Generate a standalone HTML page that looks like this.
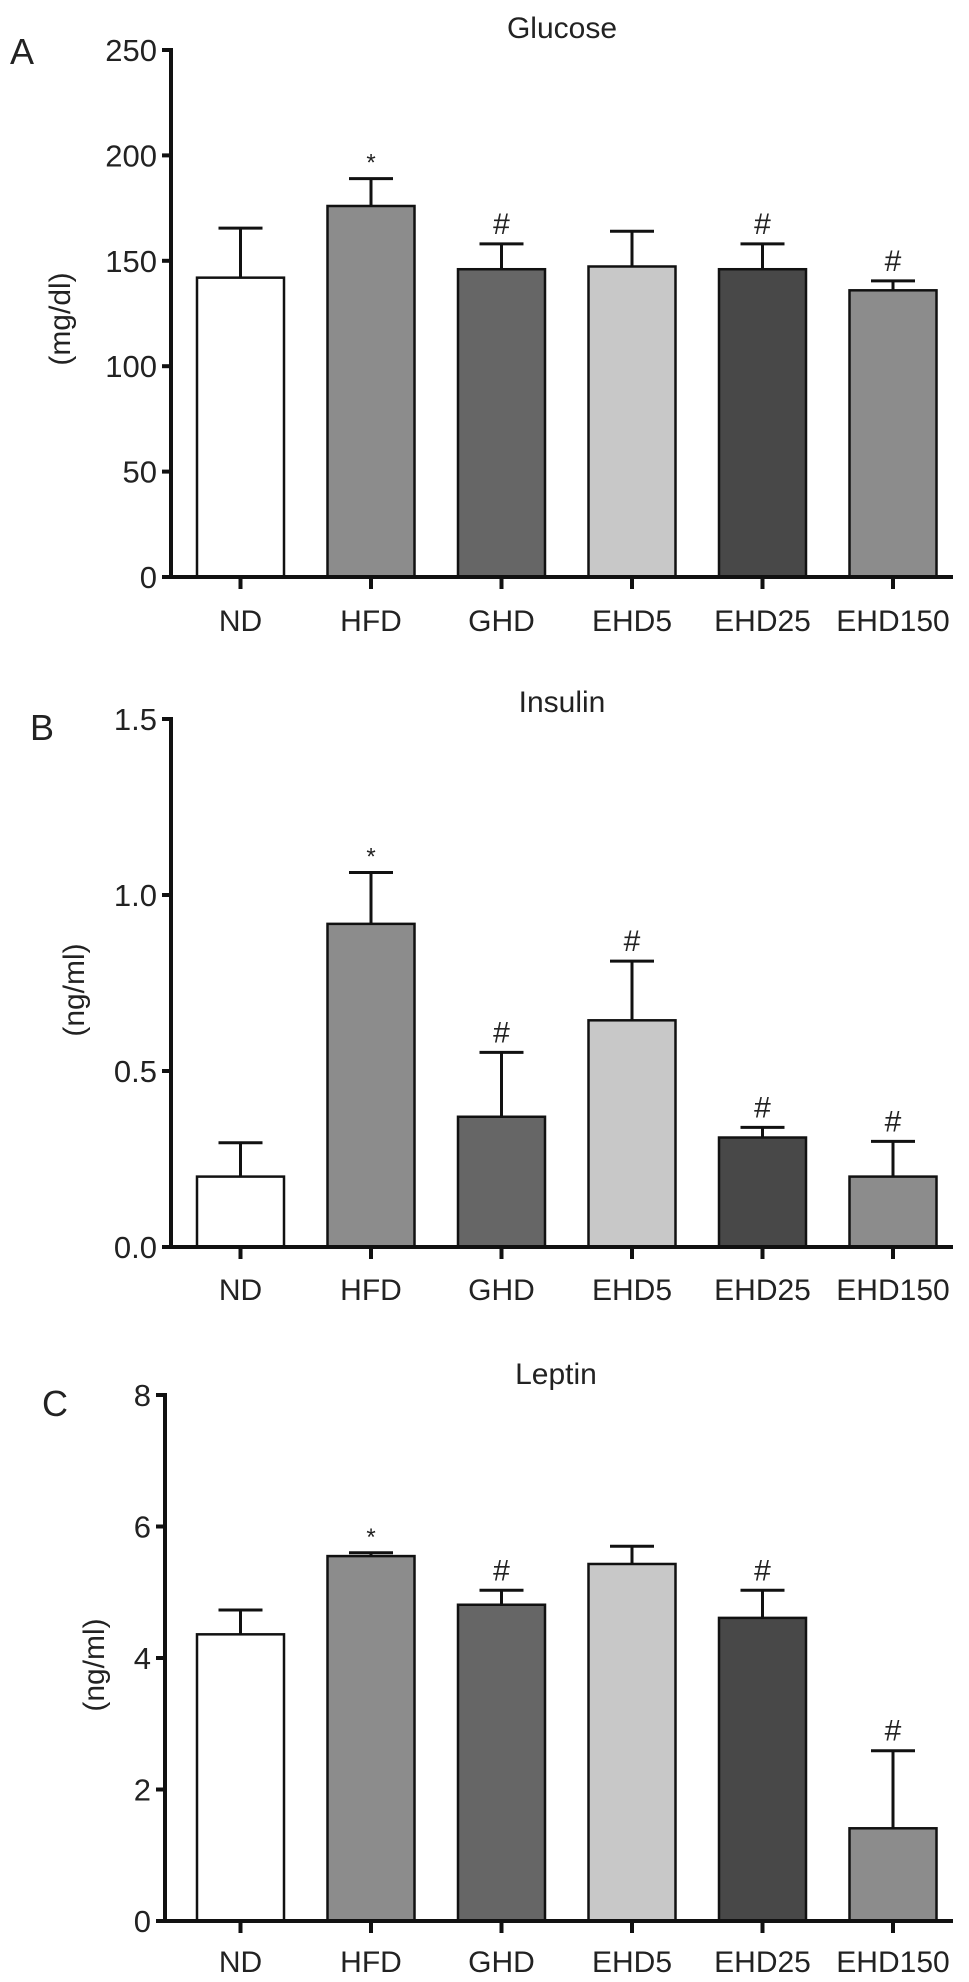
<!DOCTYPE html>
<html><head><meta charset="utf-8"><style>
html,body{margin:0;padding:0;background:#fff;}
svg{display:block;font-family:"Liberation Sans",Arial,sans-serif;}
</style></head><body>
<svg id="fig" width="969" height="1982" viewBox="0 0 969 1982"></svg>
<script>
const categories = ["ND","HFD","GHD","EHD5","EHD25","EHD150"];
const glucoseMeans = [142, 176, 146, 147.3, 146, 136];
const glucoseErr = [165.5, 189, 158, 164, 158, 140.5];
const glucoseMarks = ["", "*", "#", "", "#", "#"];
const glucoseTicks = [0, 50, 100, 150, 200, 250];
const insulinMeans = [0.2, 0.918, 0.37, 0.644, 0.311, 0.2];
const insulinErr = [0.296, 1.064, 0.553, 0.812, 0.34, 0.3];
const insulinMarks = ["", "*", "#", "#", "#", "#"];
const insulinTicks = ["0.0", "0.5", "1.0", "1.5"];
const leptinMeans = [4.36, 5.55, 4.81, 5.43, 4.61, 1.41];
const leptinErr = [4.73, 5.6, 5.03, 5.7, 5.03, 2.59];
const leptinMarks = ["", "*", "#", "", "#", "#"];
const leptinTicks = [0, 2, 4, 6, 8];

const fills = ["#ffffff","#8c8c8c","#666666","#c8c8c8","#484848","#8c8c8c"];
const NS = "http://www.w3.org/2000/svg";
const svg = document.getElementById("fig");
function el(tag, attrs, parent){
  const e = document.createElementNS(NS, tag);
  for (const k in attrs) e.setAttribute(k, attrs[k]);
  (parent||svg).appendChild(e);
  return e;
}
function panel(cfg){
  const g = el("g", {});
  
  
  const max = parseFloat(cfg.ticks[cfg.ticks.length-1]);
  const y = v => cfg.y0 - (v / max) * (cfg.y0 - cfg.yTop);
  const firstC = 240.5, step = 130.5, bw = 87;
  const x = i => firstC + i * step;
  // title
  const t = el("text", {x: cfg.titleX, y: cfg.titleY, "font-size": 30, "text-anchor": "middle", fill: "#222"}, g);
  t.textContent = cfg.title;
  
  
  const L = el("text", {x: cfg.letterX, y: cfg.letterY, "font-size": 36, fill: "#222"}, g);
  L.textContent = cfg.letter;
  
  
  const yl = el("text", {x: 0, y: 0, "font-size": 30, "text-anchor": "middle", fill: "#222",
    transform: `translate(${cfg.ylX},${cfg.ylY}) rotate(-90)`}, g);
  yl.textContent = cfg.yLabel;
  
  
  // bars
  categories.forEach((c, i) => {
    const cx = x(i);
    const top = y(cfg.means[i]), et = y(cfg.err[i]);
    const eb = el("line", {x1: cx, x2: cx, y1: top, y2: et, stroke: "#111", "stroke-width": 3}, g);
    
    
    const cap = el("line", {x1: cx - 22, x2: cx + 22, y1: et, y2: et, stroke: "#111", "stroke-width": 3}, g);
    
    
    const r = el("rect", {x: cx - bw/2, y: top, width: bw, height: cfg.y0 - top, fill: fills[i], stroke: "#111", "stroke-width": 2.5}, g);
    
    
    if (cfg.marks[i]) {
      const m = el("text", {x: cx, y: et - (cfg.marks[i] === "*" ? 8 : 10), "font-size": cfg.marks[i] === "*" ? 24 : 30, "text-anchor": "middle", fill: "#222"}, g);
      m.textContent = cfg.marks[i];
      
      
    }
    const tk = el("line", {x1: cx, x2: cx, y1: cfg.y0, y2: cfg.y0 + 12, stroke: "#111", "stroke-width": 4}, g);
    
    
    const lb = el("text", {x: cx, y: cfg.labelY, "font-size": 30, "text-anchor": "middle", fill: "#222"}, g);
    lb.textContent = c;
    
    
  });
  // axes
  const ya = el("line", {x1: cfg.ax, x2: cfg.ax, y1: cfg.yTop - 2, y2: cfg.y0 + 2, stroke: "#111", "stroke-width": 4}, g);
  
  
  const xa = el("line", {x1: cfg.ax - 8, x2: 953, y1: cfg.y0, y2: cfg.y0, stroke: "#111", "stroke-width": 4}, g);
  
  
  cfg.ticks.forEach(tv => {
    const ty = y(parseFloat(tv));
    const tl = el("line", {x1: cfg.ax - 9, x2: cfg.ax, y1: ty, y2: ty, stroke: "#111", "stroke-width": 4}, g);
    
    
    const tt = el("text", {x: cfg.ax - 14, y: ty + 11, "font-size": 31, "text-anchor": "end", fill: "#222"}, g);
    tt.textContent = tv;
    
    
  });
}
panel({name:"glucose", title:"Glucose", titleX:562, titleY:38, letter:"A", letterX:10, letterY:64,
  yLabel:"(mg/dl)", ylX:70, ylY:319, ax:171, yTop:50, y0:577, labelY:631,
  means:glucoseMeans, err:glucoseErr, marks:glucoseMarks, ticks:glucoseTicks});
panel({name:"insulin", title:"Insulin", titleX:562, titleY:712, letter:"B", letterX:30, letterY:740,
  yLabel:"(ng/ml)", ylX:84, ylY:990, ax:171, yTop:719, y0:1247, labelY:1300,
  means:insulinMeans, err:insulinErr, marks:insulinMarks, ticks:insulinTicks});
panel({name:"leptin", title:"Leptin", titleX:556, titleY:1384, letter:"C", letterX:42, letterY:1416,
  yLabel:"(ng/ml)", ylX:104, ylY:1665, ax:165, yTop:1395, y0:1921, labelY:1972,
  means:leptinMeans, err:leptinErr, marks:leptinMarks, ticks:leptinTicks});
</script>
</body></html>
